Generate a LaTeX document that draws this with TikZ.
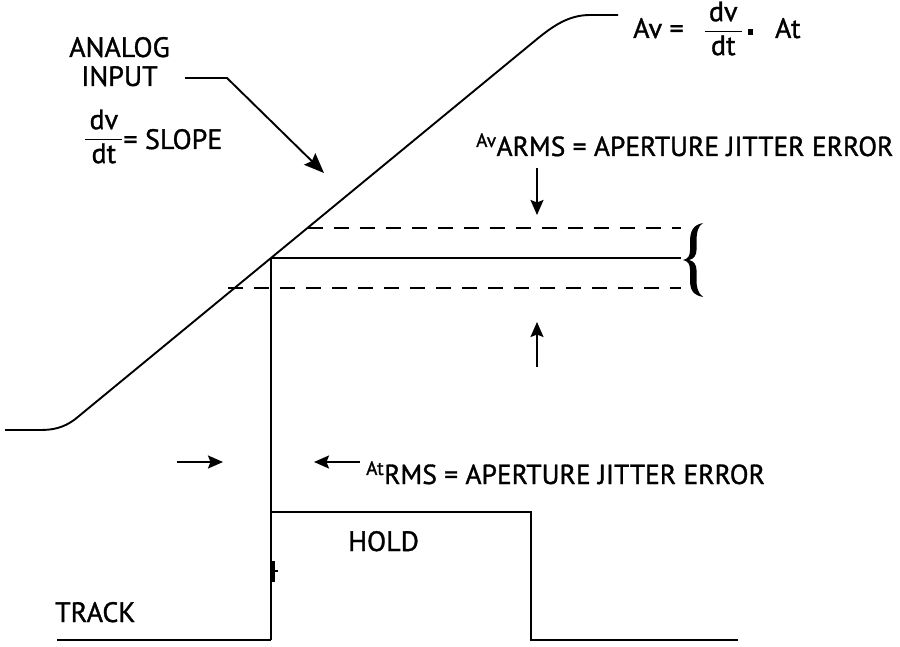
\documentclass[tikz,border=0pt]{standalone}
\usepackage{amsmath}
\usepackage{fontspec}
\setmainfont{PT Sans}[UprightFeatures={FakeBold=1.2}]
\usetikzlibrary{arrows.meta}
\begin{document}
\begin{tikzpicture}[x=1pt,y=-1pt,
  sig/.style={line width=1.9pt},
  lbl/.style={inner sep=0pt, font=\fontsize{28}{32}\selectfont},
  lbs/.style={inner sep=0pt, font=\fontsize{27.5}{32}\selectfont},
  arr/.style={line width=1.9pt,-{Stealth[length=15pt,width=13pt,inset=2.5pt]}},
  bigarr/.style={line width=1.9pt,-{Stealth[length=20pt,width=16pt,inset=3pt]}},
  dsh/.style={line width=1.9pt, dash pattern=on 15pt off 11pt}]
\useasboundingbox (0,0) rectangle (900,647);
% analog input ramp
\coordinate (s0) at (5,430);
\coordinate (s1) at (40,430);
\coordinate (s2) at (75,419.3);
\coordinate (p) at (271,258);
\coordinate (s3) at (535,40.7);
\coordinate (s4) at (590,15);
\coordinate (s5) at (618,15);
\draw[sig] (s0) -- (s1) .. controls (52,430) and (63,428.3) .. (s2) -- (p) -- (s3)
  .. controls (552,26.7) and (568,15) .. (s4) -- (s5);
% sample level and error band
\coordinate (hr) at (681,258);
\draw[sig] (p) -- (hr);
\coordinate (d1a) at (307.5,228); \coordinate (d1b) at (681,228);
\coordinate (d2a) at (228,288); \coordinate (d2b) at (681,288);
\draw[dsh] (d1a) -- (d1b);
\draw[dsh] (d2a) -- (d2b);
% brace
\fill (703,223) .. controls (693,225) and (690,231) .. (690,242) -- (690,250)
  .. controls (690,256) and (688,259) .. (683,260)
  .. controls (688,261) and (690,264) .. (690,270) -- (690,280)
  .. controls (690,290) and (693,295) .. (703,297)
  .. controls (698,293) and (696.5,288) .. (696.5,280) -- (696.5,270)
  .. controls (696.5,265) and (694,261) .. (689,260)
  .. controls (694,259) and (696.5,255) .. (696.5,250) -- (696.5,242)
  .. controls (696.5,232) and (698,226) .. (703,223) -- cycle;
% track/hold
\coordinate (b0) at (57,640);
\coordinate (b1) at (271,640);
\coordinate (h0) at (271,512);
\coordinate (h1) at (531,512);
\coordinate (h2) at (531,640);
\coordinate (b2) at (738,640);
\draw[sig] (p) -- (b1);
\draw[sig] (b0) -- (b1);
\draw[sig] (h0) -- (h1) -- (h2) -- (b2);
\coordinate (t0) at (273.5,561); \coordinate (t1) at (273.5,582);
\coordinate (t2) at (271,571); \coordinate (t3) at (278,571);
\draw[line width=2.8pt] (t0) -- (t1);
\draw[line width=1.9pt] (t2) -- (t3);
% arrows
\coordinate (a0) at (185,78); \coordinate (a1) at (227,78); \coordinate (a2) at (324,173);
\draw[bigarr] (a0) -- (a1) -- (a2);
\coordinate (v0) at (537,168); \coordinate (v1) at (537,215);
\draw[arr] (v0) -- (v1);
\coordinate (u0) at (537,367); \coordinate (u1) at (537,322);
\draw[arr] (u0) -- (u1);
\coordinate (r0) at (177,462); \coordinate (r1) at (223,462);
\draw[arr] (r0) -- (r1);
\coordinate (l0) at (360,462); \coordinate (l1) at (314,462);
\draw[arr] (l0) -- (l1);
% labels
\node[lbl, anchor=base] (analog) at (119.5,57) {ANALOG};
\node[lbl, anchor=base] (input) at (119.5,86) {INPUT};
\node[lbl, anchor=base west] (slope) at (84,149) {\raisebox{3pt}{$\dfrac{\,\text{dv}\,}{\,\text{dt}\,}$}= SLOPE};
\node[lbl, anchor=base west] (avf) at (633,38) {Av =\;\, $\dfrac{\,\text{dv}\,}{\,\text{dt}\,}$\,\raisebox{3pt}{\rule{5.5pt}{5.5pt}}\hspace{22pt}At};
\node[lbs, anchor=base west] (avarms) at (476,156) {\textsuperscript{Av}ARMS = APERTURE JITTER ERROR};
\node[lbs, anchor=base west] (atrms) at (366,484) {\textsuperscript{At}RMS = APERTURE JITTER ERROR};
\node[lbl, anchor=base west] (hold) at (348,551) {HOLD};
\node[lbl, anchor=base west] (track) at (55,622) {TRACK};
\end{tikzpicture}
\end{document}
